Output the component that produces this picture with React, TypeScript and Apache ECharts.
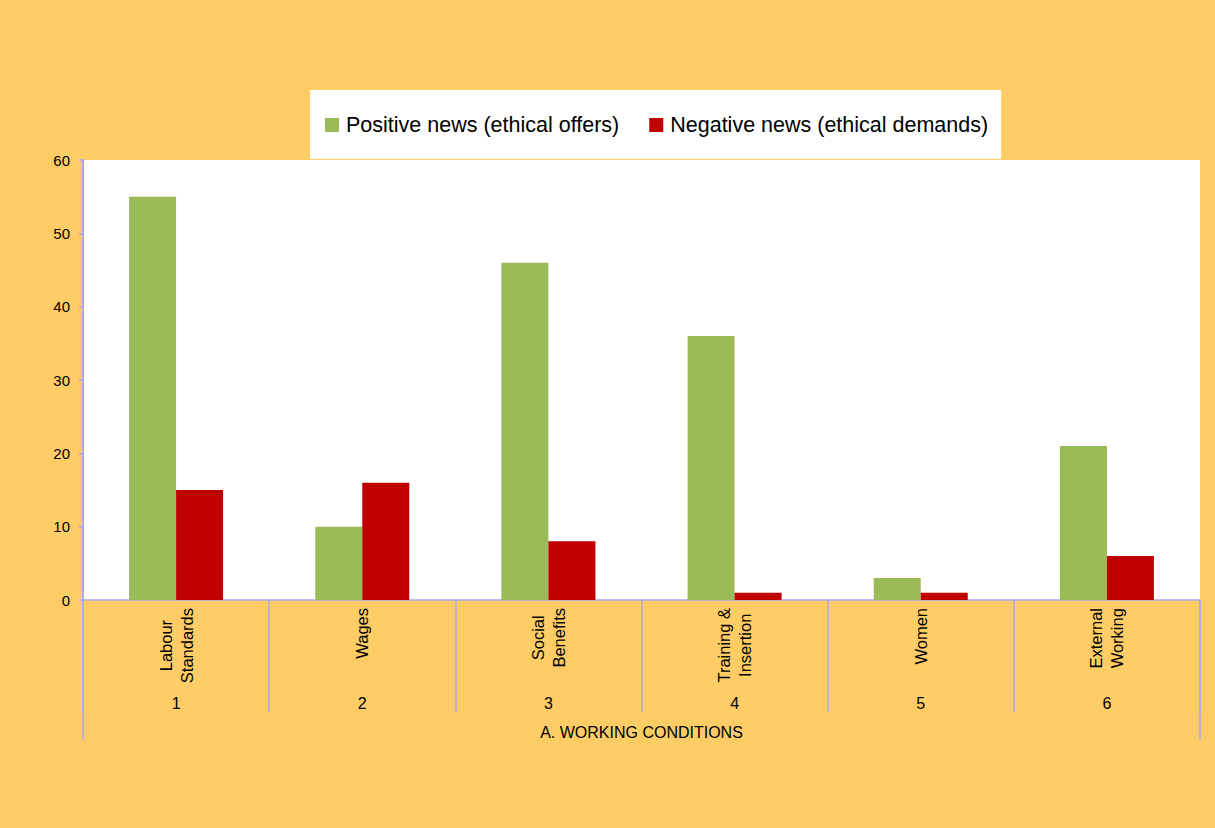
import React, { useEffect, useRef } from "react";
import * as echarts from "echarts";

const categories = ["Labour\nStandards", "Wages", "Social\nBenefits", "Training &\nInsertion", "Women", "External\nWorking"];
const categoryNumbers = ["1", "2", "3", "4", "5", "6"];
const groupLabel = ["A. WORKING CONDITIONS"];
const positiveNews = [55, 10, 46, 36, 3, 21];
const negativeNews = [15, 16, 8, 1, 1, 6];
const seriesNames = ["Positive news (ethical offers)", "Negative news (ethical demands)"];

const AXIS_COLOR = "#a9a9f0";
const FONT = "Liberation Sans, Arial, sans-serif";

export default function App() {
  const ref = useRef<HTMLDivElement>(null);
  useEffect(() => {
    if (!ref.current) return;
    const chart = echarts.init(ref.current, null, { renderer: "svg" });
    chart.setOption({
      animation: false,
      backgroundColor: "#FFCC66",
      textStyle: { fontFamily: FONT, color: "#000" },
      legend: {
        left: 310,
        top: 90,
        backgroundColor: "#fff",
        padding: [24, 13, 23, 15],
        itemGap: 30,
        itemWidth: 14,
        itemHeight: 14,
        icon: "rect",
        textStyle: { fontSize: 21.5, fontFamily: FONT, color: "#000", padding: [0, 0, 0, 2] },
        data: seriesNames,
      },
      grid: { left: 83, right: 15, top: 160, bottom: 228, backgroundColor: "#fff", show: true, borderWidth: 0 },
      xAxis: [
        {
          type: "category",
          data: categories,
          position: "bottom",
          axisLine: { show: true, lineStyle: { color: AXIS_COLOR, width: 1.5 } },
          axisTick: { show: true, length: 112, lineStyle: { color: AXIS_COLOR, width: 1.5 } },
          axisLabel: {
            rotate: 90,
            margin: 8,
            interval: 0,
            fontSize: 16.5,
            lineHeight: 21,
            fontFamily: FONT,
            color: "#000",
            formatter: (v: string) => v.split("\n").map((s) => "{c|" + s + "}").join("\n"),
            rich: { c: { align: "center", fontSize: 16.5, lineHeight: 21, fontFamily: FONT, color: "#000" } },
          },
          splitLine: { show: false },
        },
        {
          type: "category",
          data: categoryNumbers,
          position: "bottom",
          offset: 0,
          axisLine: { show: false },
          axisTick: { show: false },
          axisLabel: { margin: 95, fontSize: 16, fontFamily: FONT, color: "#000", interval: 0 },
        },
        {
          type: "category",
          data: groupLabel,
          position: "bottom",
          offset: 0,
          axisLine: { show: false },
          axisTick: { show: true, length: 140, lineStyle: { color: AXIS_COLOR, width: 1.5 } },
          axisLabel: { margin: 124, fontSize: 16, fontFamily: FONT, color: "#000" },
        },
      ],
      yAxis: {
        type: "value",
        min: 0,
        max: 60,
        interval: 10,
        axisLine: { show: true, lineStyle: { color: AXIS_COLOR, width: 2 } },
        axisTick: { show: true, length: 4, lineStyle: { color: AXIS_COLOR, width: 1.5 } },
        axisLabel: { margin: 13, fontSize: 15, fontFamily: FONT, color: "#000" },
        splitLine: { show: false },
      },
      series: [
        {
          name: seriesNames[0],
          type: "bar",
          xAxisIndex: 0,
          data: positiveNews,
          itemStyle: { color: "#9BBB59" },
          barWidth: 47,
          barGap: "0%",
        },
        {
          name: seriesNames[1],
          type: "bar",
          xAxisIndex: 0,
          data: negativeNews,
          itemStyle: { color: "#C00000" },
          barWidth: 47,
          barGap: "0%",
        },
      ],
    });
    return () => chart.dispose();
  }, []);
  return <div ref={ref} style={{ width: 1215, height: 828, position: "absolute", left: 0, top: 0 }} />;
}
